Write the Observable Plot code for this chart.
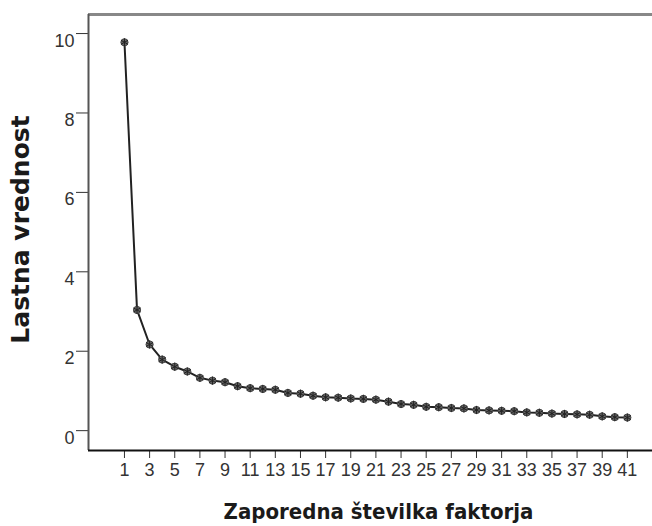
<!DOCTYPE html>
<html>
<head>
<meta charset="utf-8">
<script src="https://cdn.jsdelivr.net/npm/d3@7"></script>
<script src="https://cdn.jsdelivr.net/npm/@observablehq/plot@0.6"></script>
<style>
  html, body { margin: 0; padding: 0; background: #fff; }
  #chart svg { display: block; }
</style>
</head>
<body>
<div id="chart"></div>
<script>
// Factor numbers (categories)
const factors = d3.range(1, 42);
// Eigenvalues
const eigenvalues = [
  9.78, 3.04, 2.17, 1.79, 1.61, 1.49, 1.33, 1.26, 1.22, 1.12,
  1.07, 1.05, 1.03, 0.95, 0.93, 0.88, 0.84, 0.83, 0.81, 0.80,
  0.78, 0.73, 0.67, 0.65, 0.60, 0.59, 0.57, 0.56, 0.52, 0.51,
  0.50, 0.49, 0.46, 0.45, 0.43, 0.42, 0.41, 0.40, 0.36, 0.34,
  0.33
];
// Tick labels
const xTicks = d3.range(1, 42, 2);
const yTicks = [0, 2, 4, 6, 8, 10];
const xTitle = "Zaporedna številka faktorja";
const yTitle = "Lastna vrednost";

const data = factors.map((f, i) => ({factor: f, value: eigenvalues[i]}));

const xDomain = [-1.86, 43.0];
const yDomain = [-0.5, 10.48];

const chart = Plot.plot({
  width: 652,
  height: 526,
  marginLeft: 88,
  marginTop: 14,
  marginRight: 0,
  marginBottom: 76,
  style: {fontFamily: "'Liberation Sans', Arial, sans-serif", fontSize: "18px", color: "#333", background: "#fff"},
  x: {domain: xDomain, ticks: xTicks, tickSize: 8, tickPadding: 5, label: null, tickFormat: d => String(d)},
  y: {domain: yDomain, ticks: yTicks, tickSize: 12, tickPadding: 2, label: null, tickFormat: d => String(d)},
  marks: [
    Plot.ruleY([yDomain[1]], {stroke: "#888", strokeWidth: 3}),
    Plot.ruleX([xDomain[0]], {stroke: "#555", strokeWidth: 2}),
    Plot.ruleY([yDomain[0]], {stroke: "#111", strokeWidth: 2}),
    Plot.line(data, {x: "factor", y: "value", stroke: "#222", strokeWidth: 2}),
    Plot.dot(data, {x: "factor", y: "value", r: 3.6, fill: "#666", stroke: "#444", strokeWidth: 1}),
    Plot.dot(data, {x: "factor", y: "value", r: 3.8, symbol: "asterisk", stroke: "#222", strokeWidth: 1}),
    Plot.text([xTitle], {frameAnchor: "bottom", dx: 8, dy: 68, fontFamily: "'DejaVu Sans Condensed', 'DejaVu Sans', Verdana, sans-serif", fontWeight: "bold", fontSize: 22, fill: "#1a1a1a"}),
    Plot.text([yTitle], {frameAnchor: "left", textAnchor: "middle", rotate: -90, dx: -68, dy: -3, fontFamily: "'DejaVu Sans', Verdana, sans-serif", fontWeight: "bold", fontSize: 25, fill: "#1a1a1a"})
  ]
});
// enlarge axis tick labels to match the reference
d3.select(chart).selectAll('g[aria-label="x-axis tick label"] text, g[aria-label="y-axis tick label"] text, g[aria-label="x-axis"] text, g[aria-label="y-axis"] text')
  .style("font-size", "18px").style("fill", "#333");
d3.select(chart).selectAll('g[aria-label="y-axis tick label"] text, g[aria-label="y-axis"] text')
  .attr("dy", "0.4em");
document.getElementById("chart").appendChild(chart);
</script>
</body>
</html>
